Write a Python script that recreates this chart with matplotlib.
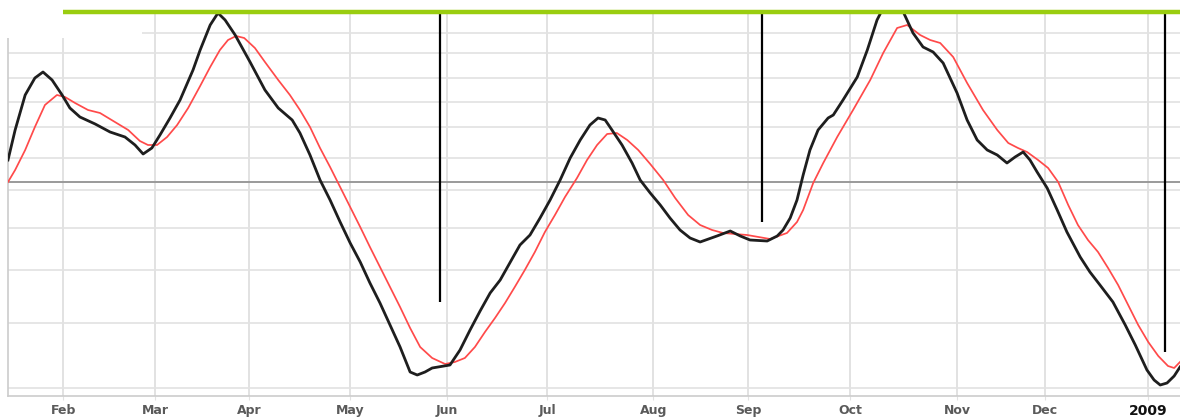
import matplotlib
matplotlib.use("Agg")
import matplotlib.pyplot as plt
import pandas as pd
from matplotlib.patches import Rectangle

# days counted from 2008-01-01, values in oscillator units
black_days = [14.0, 16.2, 19.3, 22.3, 24.8, 27.6, 30.7, 33.1, 36.2, 40.9, 45.5, 50.1, 53.2, 55.7, 58.4,
              60.9, 64.0, 67.1, 71.1, 73.3, 76.4, 78.8, 81.0, 84.1, 88.7, 93.3, 97.4, 101.7, 104.1,
              107.2, 110.3, 113.4, 116.5, 119.6, 122.7, 125.7, 128.8, 131.9, 135.0, 138.1, 140.3,
              142.7, 144.9, 150.4, 153.5, 156.6, 159.7, 162.8, 165.9, 169.9, 172.0, 175.1, 178.2,
              181.3, 184.4, 187.5, 190.6, 193.6, 196.1, 198.3, 200.4, 203.5, 206.6, 209.1, 212.2,
              215.3, 218.3, 221.4, 224.5, 227.6, 232.8, 236.9, 240.0, 243.0, 248.3, 251.4, 253.2,
              255.4, 257.5, 259.4, 261.5, 264.0, 267.1, 268.7, 271.7, 276.1, 279.2, 282.2, 284.1,
              287.2, 290.3, 293.3, 296.4, 299.5, 302.6, 306.9, 310.0, 313.1, 316.2, 319.3, 322.3,
              324.8, 327.3, 329.4, 331.6, 334.7, 337.8, 340.8, 344.9, 347.9, 351.0, 355.0, 358.8,
              361.9, 365.5, 367.7, 369.6, 371.7, 373.9, 375.7]
black_vals = [11, 26, 43.5, 52, 55, 51, 43.5, 37, 32.5, 29, 25, 22.5, 18.5, 14, 17,
              23.5, 32, 41, 56, 66, 78.5, 84.5, 81, 73.5, 60, 46, 37, 31, 24.5,
              13.5, 1, -9, -20, -30.5, -40, -50.5, -60.5, -71.5, -82.5, -95, -96.5,
              -95, -93, -91.5, -84, -74, -64.5, -55.5, -49, -37.5, -31.5, -26.5, -18,
              -9, 1, 12, 21, 28.5, 32, 31, 26, 18.5, 9.5, 1, -5.5,
              -11.5, -18, -24, -28, -30, -27, -24.5, -27, -29, -29.5, -27, -24,
              -18, -9, 3.5, 16, 26, 32, 33.5, 41, 52.5, 66, 81, 87,
              89, 85, 74.5, 67.5, 65, 59.5, 44.5, 31, 21, 16, 13.5, 9.5,
              12.5, 15, 11, 5, -3, -14, -25, -37.5, -45, -51.5, -60, -71.5,
              -81.5, -94, -99, -101.5, -100.5, -97, -92.5]

red_days = [14.0, 16.2, 19.3, 22.3, 25.4, 29.1, 31.6, 34.7, 38.7, 42.4, 47.0, 51.1, 54.7, 57.2, 60.0,
            63.1, 66.2, 69.6, 73.3, 76.4, 79.4, 81.9, 84.4, 86.9, 90.2, 93.3, 97.4, 101.0, 104.1,
            107.2, 110.3, 113.4, 116.5, 119.6, 122.7, 125.7, 128.8, 131.9, 135.0, 138.1, 141.2,
            144.9, 148.9, 151.9, 155.0, 158.1, 161.2, 164.3, 167.4, 170.4, 173.5, 176.6, 179.7,
            182.8, 185.9, 189.6, 192.7, 195.8, 198.9, 201.9, 205.1, 208.5, 212.2, 216.2, 219.9,
            223.9, 227.6, 231.3, 234.7, 242.1, 249.2, 254.4, 257.5, 259.4, 262.5, 265.6, 269.9,
            274.8, 280.1, 284.1, 288.4, 291.5, 295.5, 298.6, 301.7, 305.7, 310.0, 314.9, 319.3,
            322.7, 325.7, 328.5, 331.9, 335.0, 338.1, 341.2, 344.2, 347.3, 350.4, 353.5, 356.6,
            359.7, 362.8, 365.9, 369.0, 372.0, 373.9, 375.7]
red_vals = [0, 6, 16, 27.5, 38.5, 43.5, 42.5, 39.5, 36, 34.5, 30, 26, 20.5, 18.5, 18.5,
            22.5, 28.5, 37, 48, 57.5, 66, 71, 73, 72, 67, 60, 51, 43.5, 36,
            27.5, 17, 7.5, -2.5, -12.5, -22.5, -32.5, -42.5, -52.5, -62.5, -73, -82.5,
            -88, -91, -90, -88, -82.5, -75, -68, -60.5, -52.5, -44, -35, -25,
            -16.5, -7.5, 2, 11, 18.5, 24, 24.5, 21, 16, 9, 1, -8,
            -16.5, -21.5, -24, -25.5, -26.5, -28.5, -25.5, -20, -14, -0.5, 9.5, 22.5,
            36, 51, 64.5, 77, 78.5, 73.5, 71, 69.5, 62.5, 49.5, 36, 26,
            19.5, 17, 15, 11, 7, 0, -11.5, -21.5, -29, -35, -43, -51.5,
            -61.5, -71.5, -80, -87, -92, -93, -90]

signal_days = [147.4, 246.7, 371.1]
signal_ends = [-60, -20, -85]

grid_levels = [74.5, 64.5, 52, 40, 27.5, 12, -4, -23, -44, -70.5, -103]
# month gridlines as they sit on the original chart (trading-day spacing)
tick_days = [31.0, 59.4, 88.4, 119.6, 149.5, 180.4, 213.1, 242.4, 273.9, 306.9, 334.1, 365.9]
month_labels = ["Feb", "Mar", "Apr", "May", "Jun", "Jul", "Aug", "Sep", "Oct", "Nov", "Dec", "2009"]

start = pd.Timestamp("2008-01-01")
def to_date(d):
    return start + pd.to_timedelta(pd.Series(d), unit="D")

bx = to_date(black_days)
rx = to_date(red_days)
sx = to_date(signal_days)
ticks = to_date(tick_days)

fig = plt.figure(figsize=(11.8, 4.19), dpi=100)
ax = fig.add_axes([8 / 1180, 23 / 419, 1 - 8 / 1180, 384 / 419])
x0, x1 = to_date([14.0, 375.7])
ax.set_xlim(x0, x1)
ax.set_ylim(-107, 85)

for g in grid_levels:
    ax.axhline(g, color="#e6e6e6", lw=1.4, zorder=0)
for t in ticks:
    ax.axvline(t, color="#e2e2e2", lw=1.4, zorder=0)
ax.axhline(0, color="#9a9a9a", lw=1.4, zorder=1)

ax.plot(rx, red_vals, color="#ff4a4a", lw=1.25, zorder=3)
ax.plot(bx, black_vals, color="#1e1e1e", lw=2.0, zorder=4)
ax.vlines(sx, signal_ends, 85, color="black", lw=1.6, zorder=5)

# blank corner at top-left, as in the screenshot
ax.add_patch(Rectangle((x0 - pd.Timedelta(days=6), 72), pd.Timedelta(days=47.4), 20,
                       facecolor="white", edgecolor="none", zorder=6, clip_on=False))
ax.hlines(85, ticks.iloc[0], x1, color="#9acd10", lw=3.2, zorder=7, clip_on=False)

for s in ["top", "right"]:
    ax.spines[s].set_visible(False)
for s in ["left", "bottom"]:
    ax.spines[s].set_color("#cccccc")
    ax.spines[s].set_linewidth(1.2)

ax.set_yticks([])
ax.set_xticks(ticks)
ax.set_xticklabels(month_labels)
ax.tick_params(axis="x", length=3, color="#e2e2e2", pad=3)
for lab in ax.get_xticklabels():
    lab.set_fontweight("bold")
    lab.set_fontsize(9)
    lab.set_color("#5a5a5a")
last = ax.get_xticklabels()[-1]
last.set_color("#111111")
last.set_fontsize(10)

fig.savefig("out.png", dpi=100)
